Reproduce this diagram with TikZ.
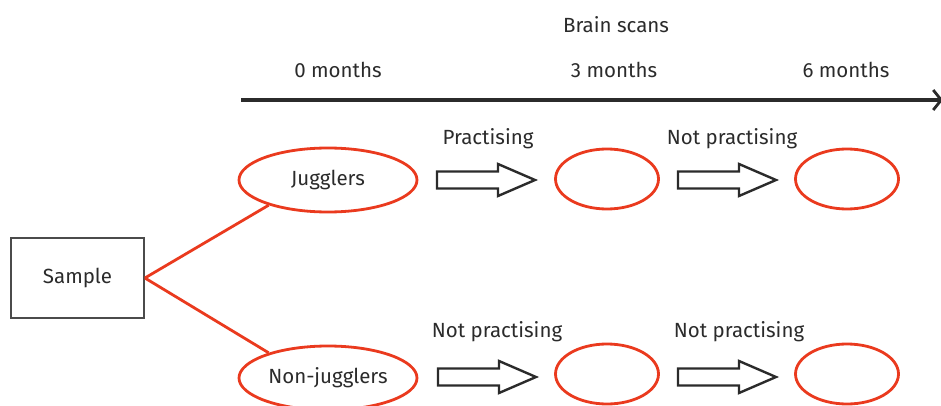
\documentclass[tikz,border=0pt]{standalone}
\usepackage{fontspec}
\setmainfont{Fira Sans}
\usetikzlibrary{shapes.geometric,arrows.meta}
\definecolor{ered}{HTML}{EA3A1E}
\definecolor{ink}{HTML}{2B2B2B}
\tikzset{
  lbl/.style={text=ink,font=\fontsize{20.5}{24}\selectfont,inner sep=0pt},
  grp/.style={ellipse,draw=ered,line width=2.8pt,minimum width=178pt,minimum height=64pt,inner sep=0pt,text=ink,font=\fontsize{20.5}{24}\selectfont},
  scan/.style={ellipse,draw=ered,line width=2.8pt,minimum width=103pt,minimum height=60pt,inner sep=0pt},
  box/.style={draw=ink!85,line width=1.8pt,minimum width=133pt,minimum height=80pt,inner sep=0pt,text=ink,font=\fontsize{20.5}{24}\selectfont},
  link/.style={draw=ered,line width=2.8pt},
  barrow/.style={draw=ink,line width=2.4pt,line join=miter,fill=white},
}
\newcommand{\blockarr}[1]{%
  \draw[barrow] ([shift={(0,-8.5)}]#1) -- ++(61,0) -- ++(0,-7.5) -- ++(37,16) -- ++(-37,16) -- ++(0,-7.5) -- ++(-61,0) -- cycle;}
\begin{document}
\begin{tikzpicture}[x=1pt,y=-1pt]
\useasboundingbox (0,0) rectangle (941,406);
\node[lbl] (title) at (616,25) {Brain scans};
\node[lbl] (m0) at (338,70) {0 months};
\node[lbl] (m3) at (614,70) {3 months};
\node[lbl] (m6) at (846,70) {6 months};
\coordinate (ts) at (241,100);
\coordinate (te) at (943,100);
\draw[ink,line width=3.2pt,-{Straight Barb[length=8pt,width=20pt,line width=2.8pt]}] (ts) -- (te);

\node[box] (sample) at (77.5,278) {Sample};
\node[grp] (jug) at (328,180) {Jugglers};
\node[grp] (non) at (328,378) {Non-jugglers};
\draw[link] (sample.east) -- (jug.203);
\draw[link] (sample.east) -- (non.157);

\node[scan] (j3) at (607,179) {};
\node[scan] (j6) at (847,179) {};
\node[scan] (n3) at (607,374) {};
\node[scan] (n6) at (847,374) {};

\coordinate (ja1) at (437,180);
\coordinate (ja2) at (678,180);
\coordinate (na1) at (438,377);
\coordinate (na2) at (678,377);
\blockarr{ja1}
\blockarr{ja2}
\blockarr{na1}
\blockarr{na2}

\node[lbl] (l1) at (488,139) {Practising};
\node[lbl] (l2) at (732,139) {Not practising};
\node[lbl] (l3) at (497,332) {Not practising};
\node[lbl] (l4) at (739,332) {Not practising};
\end{tikzpicture}
\end{document}
